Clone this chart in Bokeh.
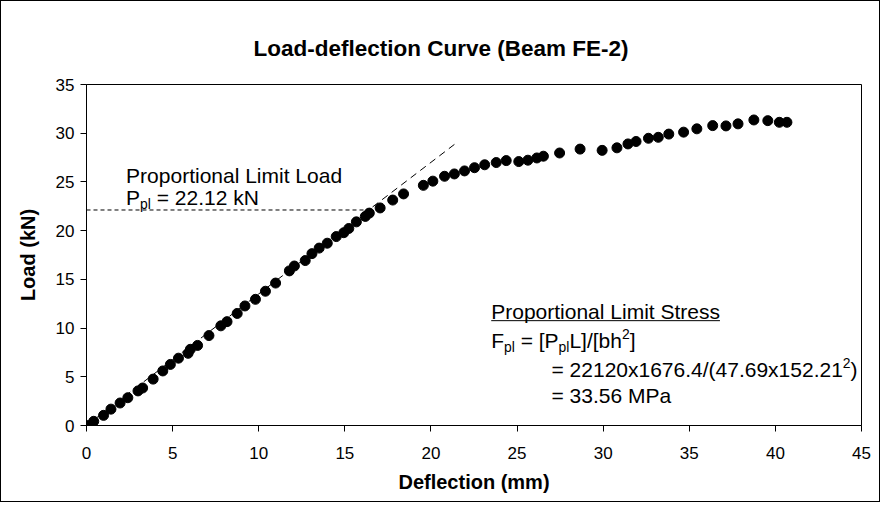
from bokeh.plotting import figure
from bokeh.models import Label, Range1d, FixedTicker
from bokeh.embed import file_html
from bokeh.resources import INLINE

# ---------------- data ----------------
deflection = [0.05, 0.42, 0.99, 1.42, 1.95, 2.40, 2.99, 3.26, 3.87, 4.43,
              4.87, 5.34, 5.90, 6.03, 6.45, 7.11, 7.80, 8.16, 8.75, 9.20,
              9.81, 10.39, 10.98, 11.78, 12.07, 12.70, 13.09, 13.51, 13.98, 14.50,
              14.94, 15.23, 15.67, 16.19, 16.42, 17.05, 17.78, 18.41, 19.56, 20.11,
              20.79, 21.36, 21.95, 22.53, 23.12, 23.79, 24.37, 25.10, 25.63, 26.15,
              26.53, 27.47, 28.66, 29.94, 30.80, 31.44, 31.91, 32.63, 33.20, 33.81,
              34.67, 35.44, 36.36, 37.13, 37.83, 38.75, 39.56, 40.23, 40.67]
load = [0.0, 0.43, 1.04, 1.68, 2.31, 2.85, 3.55, 3.85, 4.76, 5.60,
        6.27, 6.91, 7.41, 7.82, 8.22, 9.23, 10.23, 10.66, 11.50, 12.27,
        12.95, 13.78, 14.62, 15.87, 16.37, 16.93, 17.64, 18.21, 18.71, 19.39,
        19.79, 20.22, 20.90, 21.46, 21.80, 22.33, 23.14, 23.77, 24.65, 25.08,
        25.58, 25.82, 26.13, 26.46, 26.76, 26.99, 27.19, 27.09, 27.23, 27.46,
        27.64, 27.97, 28.37, 28.24, 28.50, 28.90, 29.15, 29.48, 29.58, 29.91,
        30.11, 30.45, 30.78, 30.75, 30.96, 31.36, 31.29, 31.12, 31.12]

x_ticks = [0, 5, 10, 15, 20, 25, 30, 35, 40, 45]
y_ticks = [0, 5, 10, 15, 20, 25, 30, 35]

p_pl = 22.12            # proportional limit load (kN)
p_pl_deflection = 16.4  # deflection where the limit line ends
tangent_x = [0.0, 21.4]
tangent_y = [0.0, 28.9]

FONT = "Liberation Sans"

# Arial / Liberation Sans advance widths (1/1000 em)
W = {' ': 278, '(': 333, ')': 333, '.': 278, '/': 278, '=': 584, '[': 278, ']': 278,
     'x': 500, 'F': 611, 'P': 667, 'L': 556, 'M': 833, 'N': 722, 'S': 667, 'a': 556,
     'b': 556, 'e': 556, 'h': 556, 'i': 222, 'k': 500, 'l': 222, 'm': 833, 'n': 556,
     'o': 556, 'p': 556, 'r': 333, 's': 500, 't': 278}
for d in "0123456789":
    W[d] = 556


def tw(s, size):
    return sum(W.get(c, 556) for c in s) / 1000.0 * size


p = figure(width=880, height=502, output_backend="svg", toolbar_location=None,
           x_range=Range1d(0, 45), y_range=Range1d(0, 35),
           min_border_left=85, min_border_right=20, min_border_top=83, min_border_bottom=78)
p.styles = {"border": "1px solid #000000"}
p.background_fill_color = "white"
p.border_fill_color = "white"
p.outline_line_color = "black"
p.outline_line_width = 1
p.outline_line_alpha = 1
p.grid.visible = False

p.title.text = "Load-deflection Curve (Beam FE-2)"
p.title.align = "left"
p.title.text_font = FONT
p.title.text_font_style = "bold"
p.title.text_font_size = "22.5px"
p.title.text_color = "black"
p.title.offset = 167
p.title.standoff = 48

for ax in (p.xaxis, p.yaxis):
    ax.axis_line_color = "black"
    ax.major_tick_line_color = "black"
    ax.minor_tick_line_color = None
    ax.major_tick_in = 0
    ax.major_tick_out = 6
    ax.major_label_text_font = FONT
    ax.major_label_text_font_size = "17px"
    ax.major_label_text_color = "black"
    ax.axis_label_text_font = FONT
    ax.axis_label_text_font_style = "bold"
    ax.axis_label_text_font_size = "20px"
    ax.axis_label_text_color = "black"

p.xaxis.ticker = FixedTicker(ticks=x_ticks)
p.yaxis.ticker = FixedTicker(ticks=y_ticks)
p.xaxis.axis_label = "Deflection (mm)"
p.yaxis.axis_label = "Load (kN)"
p.xaxis.major_label_standoff = 15
p.xaxis.axis_label_standoff = 9
p.yaxis.major_label_standoff = 6
p.yaxis.axis_label_standoff = 14

# reference lines
p.line(tangent_x, tangent_y, line_color="black", line_width=1, line_dash="7 5")
p.line([0, p_pl_deflection], [p_pl, p_pl], line_color="black", line_width=1, line_dash="4 3")

# data
p.scatter(deflection, load, size=10, fill_color="black", line_color="black")

ANN = 21.0


def rich(x, yc, pieces, size=ANN):
    """Draw a line of text made of normal / subscript / superscript pieces."""
    off = 0.0
    for text, kind in pieces:
        fs = size if kind == "n" else size * 0.66
        dy = 0.0
        if kind == "sub":
            dy = -0.30 * size
        elif kind == "sup":
            dy = 0.30 * size
        stripped = text.lstrip(" ")
        off += tw(text[:len(text) - len(stripped)], fs)
        p.add_layout(Label(x=x, y=yc, x_offset=off, y_offset=dy, text=stripped,
                           text_align="left", text_baseline="middle",
                           text_font=FONT, text_font_size=f"{fs:.1f}px", text_color="black"))
        off += tw(stripped, fs)
    return off


# proportional limit load annotation
rich(2.3, 25.7, [("Proportional Limit Load", "n")])
rich(2.3, 23.4, [("P", "n"), ("pl", "sub"), (" = 22.12 kN", "n")])

# proportional limit stress annotation
wstress = rich(23.5, 11.67, [("Proportional Limit Stress", "n")])
sx = 775.0 / 45.0
p.line([23.5, 23.5 + wstress / sx], [10.76, 10.76], line_color="black", line_width=1)
rich(23.5, 8.75, [("F", "n"), ("pl", "sub"), (" = [P", "n"), ("pl", "sub"),
                  ("L]/[bh", "n"), ("2", "sup"), ("]", "n")])
rich(27.0, 5.73, [("= 22120x1676.4/(47.69x152.21", "n"), ("2", "sup"), (")", "n")])
rich(27.0, 3.12, [("= 33.56 MPa", "n")])

open("out.html", "w").write(file_html(p, INLINE))
